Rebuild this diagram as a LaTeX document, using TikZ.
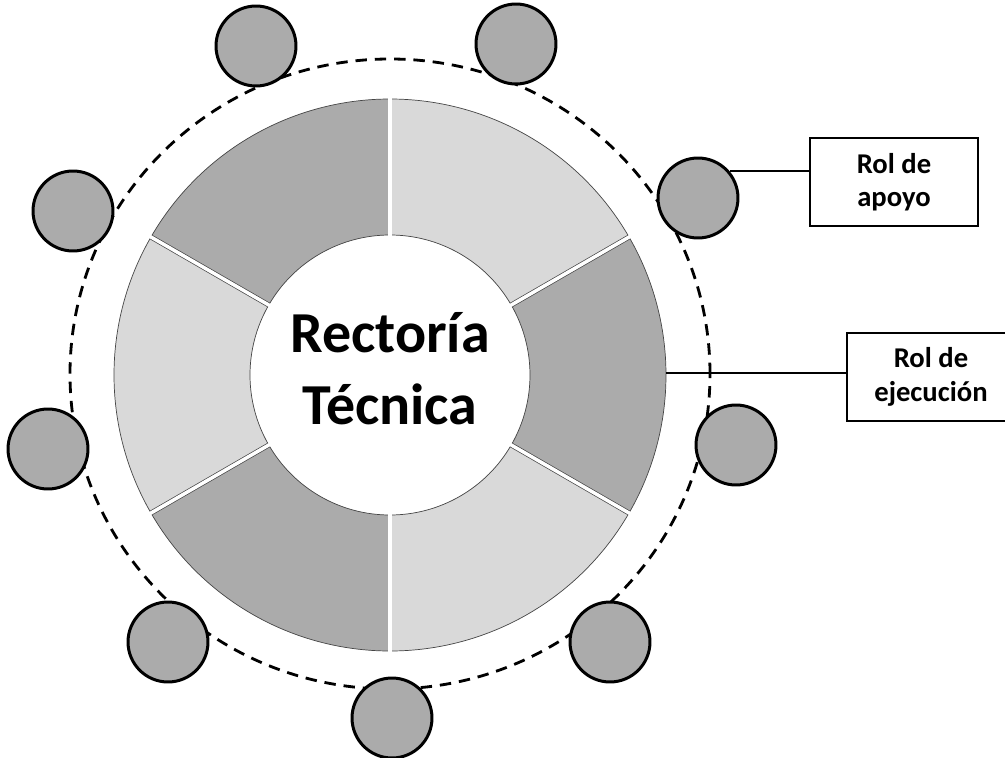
\documentclass[tikz,border=0pt]{standalone}
\usepackage{fontspec}
\setmainfont{Carlito}
\definecolor{seatgray}{HTML}{ABABAB}
\definecolor{lightsector}{HTML}{D9D9D9}
\definecolor{rimline}{HTML}{454545}
\begin{document}
\begin{tikzpicture}[scale=0.2,
    seat/.style={circle, draw=black, line width=1.7pt, fill=seatgray, minimum size=45.5pt, inner sep=0pt},
    rolebox/.style={draw=black, line width=1.1pt, fill=white, minimum width=95.6pt, minimum height=50.1pt,
      align=center, font=\fontsize{16.3}{19}\selectfont\bfseries},
    sector/.style={draw=rimline, line width=0.4pt}]
    \useasboundingbox (-39,37.5) rectangle (61.5,-38.2);
    % ring of six sectors
    \foreach \a/\c in {30/lightsector, 90/seatgray, 150/lightsector, 210/seatgray, 270/lightsector, 330/seatgray}
        \draw [sector, fill=\c] (\a:14) arc (\a:\a+60:14) -- (\a+60:27.6) arc (\a+60:\a:27.6) -- cycle;
    \foreach \a in {30,90,...,330} {
        \draw [rimline, line width=2.8pt] (\a:14) -- (\a:27.6);
        \draw [white, line width=2pt] (\a:13.5) -- (\a:28);
    }
    \node [font=\fontsize{33}{41}\selectfont\bfseries, align=center, inner sep=0pt] (title) at (0,0.6) {Rector\'ia\\T\'ecnica};
    % dashed orbit
    \draw [black, line width=1.6pt, dash pattern=on 6.5pt off 4.5pt] (0,0.1) ellipse (32 and 31.5);
    % seats
    \node [seat] (s1) at (-13.4,32.9) {};
    \node [seat] (s2) at (12.6,33.1) {};
    \node [seat] (s3) at (-31.7,16.4) {};
    \node [seat] (s4) at (30.8,17.7) {};
    \node [seat] (s5) at (-34.2,-7.4) {};
    \node [seat] (s6) at (34.6,-7.0) {};
    \node [seat] (s7) at (-22.2,-26.7) {};
    \node [seat] (s8) at (22.0,-26.7) {};
    \node [seat] (s9) at (0.2,-34.3) {};
    % roles
    \node [rolebox] (apoyo) at (50.4,19.3) {Rol de\\apoyo};
    \node [rolebox] (ejec) at (54.1,-0.2) {Rol de\\ejecuci\'on};
    \coordinate (ringE) at (27.6,0.2);
    \draw [black, line width=1.3pt] (s4.40) -- (s4.40 -| apoyo.west);
    \draw [black, line width=1.3pt] (ringE) -- (ringE -| ejec.west);
\end{tikzpicture}
\end{document}
